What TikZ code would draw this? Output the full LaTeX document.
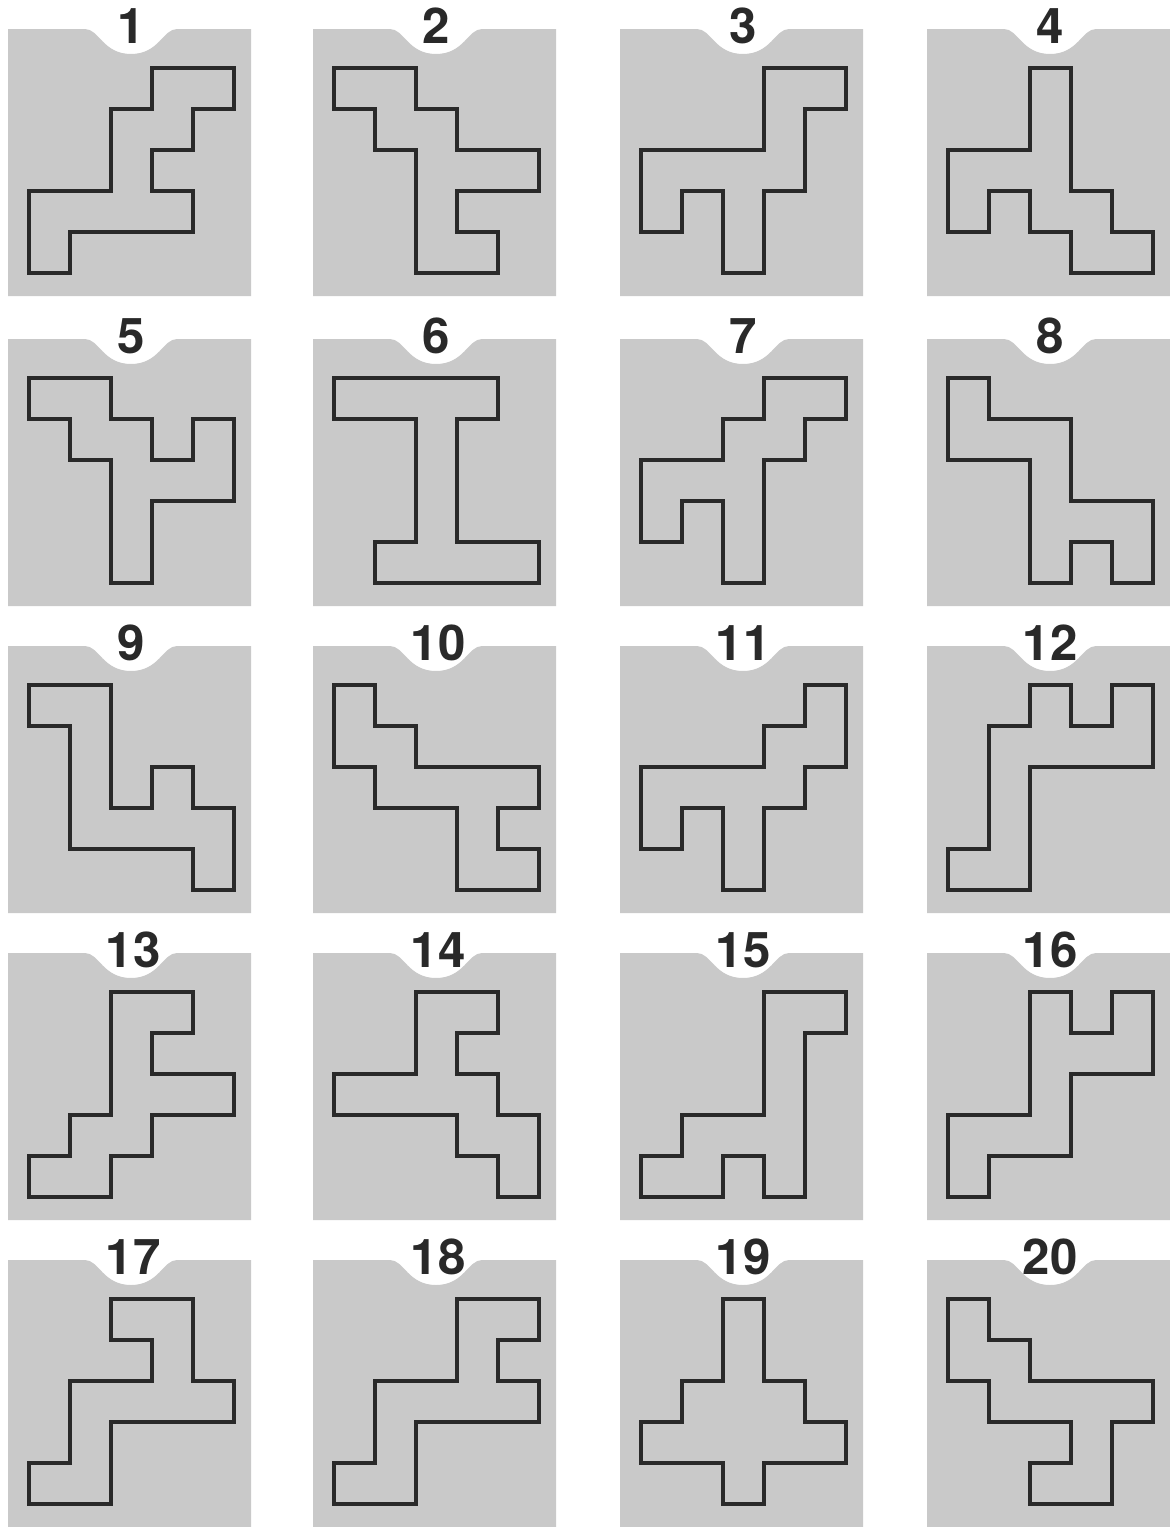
\documentclass[tikz,border=0pt]{standalone}
\usepackage{fontspec}
\newfontfamily\digitfont{TeX Gyre Heros}
\definecolor{tilegray}{gray}{0.79}
\definecolor{inkgray}{gray}{0.16}
\tikzset{
  tile/.pic={
    \fill[tilegray] (0,0) -- (77,0) .. controls +(14,0) and +(-28,0) .. (123,25)
      .. controls +(28,0) and +(-14,0) .. (169,0) -- (243,0) -- (243,267) -- (0,267) -- cycle;
  },
  outline/.style={draw=inkgray, line width=0.08cm, line join=miter},
  tileno/.style={font=\digitfont\bfseries\fontsize{35}{35}\selectfont, text=inkgray, inner sep=0pt},
  squareunit/.style={x=1.025cm, y=-1.025cm}
}
\begin{document}
\begin{tikzpicture}[x=0.025cm, y=-0.025cm]

            \fill[white] (0,0) rectangle (1170,1527);
            \useasboundingbox (0,0) rectangle (1170,1527);

            \pic at (8,29) {tile};
            \pic at (313,29) {tile};
            \pic at (620,29) {tile};
            \pic at (927,29) {tile};

            \pic at (8,339) {tile};
            \pic at (313,339) {tile};
            \pic at (620,339) {tile};
            \pic at (927,339) {tile};

            \pic at (8,646) {tile};
            \pic at (313,646) {tile};
            \pic at (620,646) {tile};
            \pic at (927,646) {tile};

            \pic at (8,953) {tile};
            \pic at (313,953) {tile};
            \pic at (620,953) {tile};
            \pic at (927,953) {tile};

            \pic at (8,1260) {tile};
            \pic at (313,1260) {tile};
            \pic at (620,1260) {tile};
            \pic at (927,1260) {tile};

            \node (no-1) at (131, 26) [tileno] {1};
            \node (no-2) at (436, 26) [tileno] {2};
            \node (no-3) at (743, 26) [tileno] {3};
            \node (no-4) at (1050, 26) [tileno] {4};

            \node (no-5) at (131, 336) [tileno] {5};
            \node (no-6) at (436, 336) [tileno] {6};
            \node (no-7) at (743, 336) [tileno] {7};
            \node (no-8) at (1050, 336) [tileno] {8};

            \node (no-9) at (131, 643) [tileno] {9};
            \node (no-10) at (438, 643) [tileno] {10};
            \node (no-11) at (743, 643) [tileno] {11};
            \node (no-12) at (1050, 643) [tileno] {12};

            \node (no-13) at (133, 950) [tileno] {13};
            \node (no-14) at (438, 950) [tileno] {14};
            \node (no-15) at (743, 950) [tileno] {15};
            \node (no-16) at (1050, 950) [tileno] {16};

            \node (no-17) at (133, 1257) [tileno] {17};
            \node (no-18) at (438, 1257) [tileno] {18};
            \node (no-19) at (743, 1257) [tileno] {19};
            \node (no-20) at (1050, 1257) [tileno] {20};

            \draw[outline, shift={(29,68)}, squareunit] (3,0) -- (5,0) -- (5,1) -- (4,1) -- (4,2) -- (3,2) -- (3,3) -- (4,3) -- (4,4) -- (1,4) -- (1,5) -- (0,5) -- (0,3) -- (2,3) -- (2,1) -- (3,1) -- cycle;
            \draw[outline, shift={(334,68)}, squareunit] (0,0) -- (2,0) -- (2,1) -- (3,1) -- (3,2) -- (5,2) -- (5,3) -- (3,3) -- (3,4) -- (4,4) -- (4,5) -- (2,5) -- (2,2) -- (1,2) -- (1,1) -- (0,1) -- cycle;
            \draw[outline, shift={(641,68)}, squareunit] (3,0) -- (5,0) -- (5,1) -- (4,1) -- (4,3) -- (3,3) -- (3,5) -- (2,5) -- (2,3) -- (1,3) -- (1,4) -- (0,4) -- (0,2) -- (3,2) -- cycle;
            \draw[outline, shift={(948,68)}, squareunit] (2,0) -- (3,0) -- (3,3) -- (4,3) -- (4,4) -- (5,4) -- (5,5) -- (3,5) -- (3,4) -- (2,4) -- (2,3) -- (1,3) -- (1,4) -- (0,4) -- (0,2) -- (2,2) -- cycle;

            \draw[outline, shift={(29,378)}, squareunit] (0,0) -- (2,0) -- (2,1) -- (3,1) -- (3,2) -- (4,2) -- (4,1) -- (5,1) -- (5,3) -- (3,3) -- (3,5) -- (2,5) -- (2,2) -- (1,2) -- (1,1) -- (0,1) -- cycle;
            \draw[outline, shift={(334,378)}, squareunit] (0,0) -- (4,0) -- (4,1) -- (3,1) -- (3,4) -- (5,4) -- (5,5) -- (1,5) -- (1,4) -- (2,4) -- (2,1) -- (0,1) -- cycle;
            \draw[outline, shift={(641,378)}, squareunit] (3,0) -- (5,0) -- (5,1) -- (4,1) -- (4,2) -- (3,2) -- (3,5) -- (2,5) -- (2,3) -- (1,3) -- (1,4) -- (0,4) -- (0,2) -- (2,2) -- (2,1) -- (3,1) -- cycle;
            \draw[outline, shift={(948,378)}, squareunit] (0,0) -- (1,0) -- (1,1) -- (3,1) -- (3,3) -- (5,3) -- (5,5) -- (4,5) -- (4,4) -- (3,4) -- (3,5) -- (2,5) -- (2,2) -- (0,2) -- cycle;

            \draw[outline, shift={(29,685)}, squareunit] (0,0) -- (2,0) -- (2,3) -- (3,3) -- (3,2) -- (4,2) -- (4,3) -- (5,3) -- (5,5) -- (4,5) -- (4,4) -- (1,4) -- (1,1) -- (0,1) -- cycle;
            \draw[outline, shift={(334,685)}, squareunit] (0,0) -- (1,0) -- (1,1) -- (2,1) -- (2,2) -- (5,2) -- (5,3) -- (4,3) -- (4,4) -- (5,4) -- (5,5) -- (3,5) -- (3,3) -- (1,3) -- (1,2) -- (0,2) -- cycle;
            \draw[outline, shift={(641,685)}, squareunit] (4,0) -- (5,0) -- (5,2) -- (4,2) -- (4,3) -- (3,3) -- (3,5) -- (2,5) -- (2,3) -- (1,3) -- (1,4) -- (0,4) -- (0,2) -- (3,2) -- (3,1) -- (4,1) -- cycle;
            \draw[outline, shift={(948,685)}, squareunit] (2,0) -- (3,0) -- (3,1) -- (4,1) -- (4,0) -- (5,0) -- (5,2) -- (2,2) -- (2,5) -- (0,5) -- (0,4) -- (1,4) -- (1,1) -- (2,1) -- cycle;

            \draw[outline, shift={(29,992)}, squareunit] (2,0) -- (4,0) -- (4,1) -- (3,1) -- (3,2) -- (5,2) -- (5,3) -- (3,3) -- (3,4) -- (2,4) -- (2,5) -- (0,5) -- (0,4) -- (1,4) -- (1,3) -- (2,3) -- cycle;
            \draw[outline, shift={(334,992)}, squareunit] (2,0) -- (4,0) -- (4,1) -- (3,1) -- (3,2) -- (4,2) -- (4,3) -- (5,3) -- (5,5) -- (4,5) -- (4,4) -- (3,4) -- (3,3) -- (0,3) -- (0,2) -- (2,2) -- cycle;
            \draw[outline, shift={(641,992)}, squareunit] (3,0) -- (5,0) -- (5,1) -- (4,1) -- (4,5) -- (3,5) -- (3,4) -- (2,4) -- (2,5) -- (0,5) -- (0,4) -- (1,4) -- (1,3) -- (3,3) -- cycle;
            \draw[outline, shift={(948,992)}, squareunit] (2,0) -- (3,0) -- (3,1) -- (4,1) -- (4,0) -- (5,0) -- (5,2) -- (3,2) -- (3,4) -- (1,4) -- (1,5) -- (0,5) -- (0,3) -- (2,3) -- cycle;

            \draw[outline, shift={(29,1299)}, squareunit] (2,0) -- (4,0) -- (4,2) -- (5,2) -- (5,3) -- (2,3) -- (2,5) -- (0,5) -- (0,4) -- (1,4) -- (1,2) -- (3,2) -- (3,1) -- (2,1) -- cycle;
            \draw[outline, shift={(334,1299)}, squareunit] (3,0) -- (5,0) -- (5,1) -- (4,1) -- (4,2) -- (5,2) -- (5,3) -- (2,3) -- (2,5) -- (0,5) -- (0,4) -- (1,4) -- (1,2) -- (3,2) -- cycle;
            \draw[outline, shift={(641,1299)}, squareunit] (2,0) -- (3,0) -- (3,2) -- (4,2) -- (4,3) -- (5,3) -- (5,4) -- (3,4) -- (3,5) -- (2,5) -- (2,4) -- (0,4) -- (0,3) -- (1,3) -- (1,2) -- (2,2) -- cycle;
            \draw[outline, shift={(948,1299)}, squareunit] (0,0) -- (1,0) -- (1,1) -- (2,1) -- (2,2) -- (5,2) -- (5,3) -- (4,3) -- (4,5) -- (2,5) -- (2,4) -- (3,4) -- (3,3) -- (1,3) -- (1,2) -- (0,2) -- cycle;

        \end{tikzpicture}
\end{document}
